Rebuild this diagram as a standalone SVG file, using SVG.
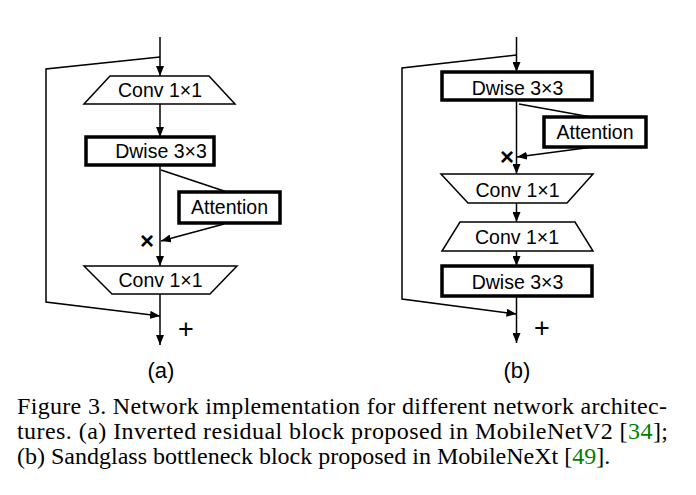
<svg xmlns="http://www.w3.org/2000/svg" width="696" height="495" viewBox="0 0 696 495">
<style>
.lbl{font-family:"Liberation Sans",Arial,sans-serif;font-size:19.5px;fill:#000;text-anchor:middle}
.sym{font-family:"Liberation Sans",Arial,sans-serif;fill:#000;text-anchor:middle}
.cap{font-family:"Liberation Serif","Times New Roman",serif;font-size:24px;fill:#000}
.ref{fill:#008000}
.box{fill:#fff;stroke:#000;stroke-width:3.5}
.trap{fill:#fff;stroke:#000;stroke-width:1.5;stroke-linejoin:miter}
.con{fill:none;stroke:#000;stroke-width:1.5}
</style>
<defs>
<marker id="ah" markerUnits="userSpaceOnUse" markerWidth="10" markerHeight="8" refX="10" refY="4" orient="auto">
<path d="M0,0 L10,4 L0,8 Z" fill="#000"/>
</marker>
</defs>
<rect width="696" height="495" fill="#fff"/>

<g id="connectors">
<!-- (a) -->
<path class="con" d="M160,37 V76" marker-end="url(#ah)"/>
<path class="con" d="M160,57 L46,69 L46,302 L160,316" marker-end="url(#ah)"/>
<path class="con" d="M160,104 V137" marker-end="url(#ah)"/>
<path class="con" d="M160,165 V266" marker-end="url(#ah)"/>
<path class="con" d="M161,170 L227,192"/>
<path class="con" d="M224,224 L161,241" marker-end="url(#ah)"/>
<path class="con" d="M160,294 V345" marker-end="url(#ah)"/>
<!-- (b) -->
<path class="con" d="M516.5,37 V72" marker-end="url(#ah)"/>
<path class="con" d="M516.5,55 L402,68 L402,299 L516.5,314" marker-end="url(#ah)"/>
<path class="con" d="M516.5,100 V174" marker-end="url(#ah)"/>
<path class="con" d="M519,104 L591,117"/>
<path class="con" d="M593,147 L517,157" marker-end="url(#ah)"/>
<path class="con" d="M516.5,203 V222" marker-end="url(#ah)"/>
<path class="con" d="M516.5,251 V266" marker-end="url(#ah)"/>
<path class="con" d="M516.5,296 V343" marker-end="url(#ah)"/>
</g>

<g id="a-conv1">
<polygon class="trap" points="110,76 209,76 235,104 84,104"/>
<text class="lbl" x="160" y="97">Conv 1×1</text>
</g>
<g id="a-dwise">
<rect class="box" x="86" y="137" width="128" height="28"/>
<text class="lbl" x="161" y="158">Dwise 3×3</text>
</g>
<g id="a-attention">
<rect class="box" x="179" y="192" width="101" height="31"/>
<text class="lbl" x="229.5" y="214">Attention</text>
</g>
<g id="a-mul">
<text class="sym" x="147" y="249" font-size="24" font-weight="bold">×</text>
</g>
<g id="a-conv2">
<polygon class="trap" points="84,266 237,266 210,294 112,294"/>
<text class="lbl" x="160.5" y="287">Conv 1×1</text>
</g>
<g id="a-add">
<text class="sym" x="186" y="337.5" font-size="27">+</text>
</g>
<g id="a-label">
<text class="sym" x="161" y="378" font-size="22">(a)</text>
</g>

<g id="b-dwise1">
<rect class="box" x="442" y="72" width="150" height="28"/>
<text class="lbl" x="517.5" y="95">Dwise 3×3</text>
</g>
<g id="b-attention">
<rect class="box" x="544" y="117" width="102" height="30"/>
<text class="lbl" x="595" y="138.5">Attention</text>
</g>
<g id="b-mul">
<text class="sym" x="507" y="165" font-size="24" font-weight="bold">×</text>
</g>
<g id="b-conv1">
<polygon class="trap" points="441,174 593,174 567,203 468,203"/>
<text class="lbl" x="517.5" y="196.5">Conv 1×1</text>
</g>
<g id="b-conv2">
<polygon class="trap" points="460,222 575,222 593,251 442,251"/>
<text class="lbl" x="517" y="244">Conv 1×1</text>
</g>
<g id="b-dwise2">
<rect class="box" x="442" y="266" width="150" height="30"/>
<text class="lbl" x="517.5" y="288.5">Dwise 3×3</text>
</g>
<g id="b-add">
<text class="sym" x="542" y="337" font-size="27">+</text>
</g>
<g id="b-label">
<text class="sym" x="517" y="378" font-size="22">(b)</text>
</g>

<g id="caption">
<text class="cap" x="17" y="414" textLength="650" lengthAdjust="spacing">Figure 3. Network implementation for different network architec-</text>
<text class="cap" x="17" y="439" textLength="651" lengthAdjust="spacing">tures.  (a) Inverted residual block proposed in MobileNetV2 [<tspan class="ref">34</tspan>];</text>
<text class="cap" x="17" y="464">(b) Sandglass bottleneck block proposed in MobileNeXt [<tspan class="ref">49</tspan>].</text>
</g>
</svg>
